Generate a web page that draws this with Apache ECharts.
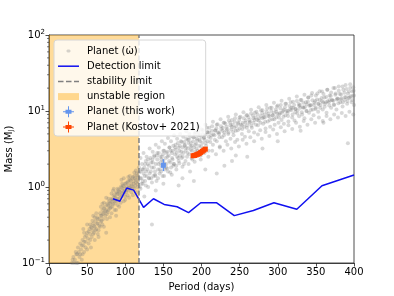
<!DOCTYPE html>
<html><head><meta charset="utf-8">
<script src="https://cdn.jsdelivr.net/npm/echarts@6/dist/echarts.min.js"></script>
<style>html,body{margin:0;padding:0;background:#fff}#c{width:394px;height:296px}</style>
</head><body><div id="c"></div>
<script>
// ---- data ----
var xTicks = [0, 50, 100, 150, 200, 250, 300, 350, 400];
var yTickLabels = {0.1: '10{s|\u22121}', 1: '10{s|0}', 10: '10{s|1}', 100: '10{s|2}'};
var yMinorTicks = [0.2,0.3,0.4,0.5,0.6,0.7,0.8,0.9,2,3,4,5,6,7,8,9,20,30,40,50,60,70,80,90];

// simulated planets (period [d], mass [MJ]) read from the cloud
var cloudPoints = [
[30,0.10],[32,0.12],[34,0.11],[35,0.14],[37,0.13],[38,0.16],[40,0.12],[41,0.18],[42,0.15],[44,0.2],[45,0.17],[46,0.14],[47,0.22],[48,0.19],[50,0.25],[51,0.21],[52,0.18],[53,0.28],[54,0.24],[55,0.3],[56,0.22],[57,0.27],[58,0.33],[59,0.25],[60,0.3],[61,0.36],[62,0.28],[63,0.4],[64,0.33],[65,0.27],[66,0.38],[67,0.45],[68,0.35],[69,0.42],[70,0.5],[71,0.38],[72,0.46],[73,0.55],[74,0.42],[75,0.5],[76,0.6],[77,0.47],[78,0.56],[79,0.65],[80,0.52],[81,0.6],[82,0.7],[83,0.55],[84,0.66],[85,0.78],[86,0.6],[87,0.72],[88,0.85],[89,0.65],[90,0.8],[91,0.92],[92,0.7],[93,0.85],[94,1.0],[95,0.75],[96,0.9],[97,1.05],[98,0.82],[99,0.95],[100,1.1],[101,0.85],[102,1.0],[103,1.15],[104,0.9],[105,1.05],[106,1.25],[107,0.95],[108,1.1],[109,1.3],[110,1.0],[111,1.2],[112,1.4],[113,1.05],[114,1.25],[115,1.5],[116,1.1],[117,1.35],[118,1.55],
[45,0.28],[60,0.2],[70,0.32],[80,0.4],[90,0.58],[100,0.68],[110,0.78],[55,0.16],[65,0.22],[75,0.72],[85,0.95],[95,1.25],[105,0.72],[115,0.85],[36,0.1],[43,0.11],[75,0.25],[62,0.45],[88,0.5],[98,1.3],
[119,1.0],[120,1.6],[121,1.3],[122,2.0],[123,1.1],[124,1.5],[125,1.8],[126,1.2],[127,2.2],[128,1.4],[129,1.7],[130,1.0],[131,1.9],[132,1.5],[133,2.4],[134,1.3],[135,1.8],[136,2.1],[137,1.4],[138,2.6],[139,1.6],[140,2.0],[141,1.2],[142,2.3],[143,1.7],[144,2.8],[145,1.5],[146,2.1],[147,1.9],[148,2.5],[149,1.4],[150,2.2],[151,3.0],[152,1.7],[153,2.4],[154,2.0],[155,2.9],[156,1.6],[157,2.6],[158,3.3],[159,2.1],[160,1.8],[161,2.8],[162,2.3],[163,3.5],[164,2.0],[165,2.7],[166,3.1],[167,1.9],[168,2.5],[169,3.8],[170,2.2],[171,3.0],[172,2.6],[173,4.0],[174,2.4],[175,3.3],[176,2.8],[177,2.0],[178,3.6],[179,3.0],[180,4.3],[181,2.5],[182,3.2],[183,3.8],[184,2.7],[185,4.6],[186,3.1],[187,3.5],[188,2.3],[189,4.0],[190,3.3],[191,5.0],[192,2.9],[193,3.7],[194,4.3],[195,3.0],[196,5.3],[197,3.5],[198,4.0],[199,2.6],[200,4.6],[201,3.8],[202,5.6],[203,3.2],[204,4.2],[205,4.9],[206,3.5],[207,6.0],[208,4.0],[209,3.0],[210,5.2],[212,4.4],[214,6.3],[215,3.6],[217,4.8],[218,5.5],[220,4.0],[221,6.7],[223,5.0],[224,3.4],[226,5.8],[227,4.5],[229,7.0],[230,5.2],[232,4.0],[233,6.2],[235,5.0],[236,7.5],[238,4.3],[239,5.7],[241,6.6],[242,4.8],[244,8.0],[245,5.5],[247,4.2],[248,6.8],[250,5.9],[251,8.4],[253,5.0],[254,7.0],[256,6.2],[257,4.6],[259,8.8],[260,6.5],[262,5.4],[263,7.6],[265,9.3],[266,6.0],[268,7.0],[269,5.2],[271,8.2],[272,9.8],[274,6.5],[275,7.5],[277,5.6],[278,10.2],[280,8.0],[281,6.8],[283,9.0],[284,5.9],[286,10.8],[287,7.3],[289,8.5],[290,6.2],[292,11.0],[293,7.8],[295,9.5],[296,6.6],[298,8.3],[299,11.5],[301,7.0],[302,9.0],[304,12.0],[305,7.6],[307,10.0],[308,6.8],[310,8.8],[311,12.5],[313,9.5],[314,7.3],[316,10.5],[317,13.0],[319,8.2],[320,11.0],[322,7.5],[323,9.6],[325,13.5],[326,10.2],[328,8.5],[329,12.0],[331,14.0],[332,9.0],[334,11.0],[335,8.0],[337,13.0],[338,10.0],[340,15.0],[341,9.5],[343,12.0],[344,16.0],[346,10.5],[347,8.8],[349,13.5],[350,11.0],[352,17.0],[353,9.8],[355,14.0],[356,12.0],[358,18.0],[359,10.5],[361,15.0],[362,12.5],[364,9.5],[365,19.0],[367,13.0],[368,16.0],[370,11.0],[371,14.0],[373,20.0],[374,12.0],[376,17.0],[377,10.5],[379,14.5],[380,21.0],[382,13.0],[383,16.5],[385,11.5],[386,19.0],[388,14.0],[389,22.0],[391,12.5],[392,17.0],[394,15.0],[395,20.0],[397,13.0],[398,18.0],[400,16.0],[400,12.0],
[135,0.32],[161,1.45],[220,1.5],[392,3.75],[190,1.2],[230,1.9],[260,2.5],[150,1.1],[175,1.3],[205,1.7],[240,2.2],[280,3.2],[185,1.6],[245,2.6],[300,4.0],[330,5.5],[360,7.0],[125,0.75],[140,0.9],[170,1.05]
];
var cloudPoints2 = [
[31,0.11],[33,0.1],[36,0.13],[39,0.14],[41,0.13],[43,0.17],[46,0.19],[48,0.16],[49,0.23],[52,0.26],[54,0.2],[56,0.29],[58,0.24],[59,0.31],[61,0.27],[63,0.33],[64,0.38],[66,0.31],[68,0.42],[69,0.36],[71,0.44],[72,0.52],[74,0.48],[76,0.44],[77,0.58],[78,0.5],[80,0.62],[81,0.54],[83,0.68],[84,0.6],[86,0.75],[87,0.66],[89,0.82],[90,0.7],[92,0.88],[93,0.78],[95,0.98],[96,0.82],[98,1.02],[99,0.88],[101,1.12],[102,0.92],[104,1.2],[105,0.98],[107,1.22],[108,1.02],[110,1.35],[111,1.1],[113,1.3],[114,1.15],[116,1.42],[117,1.2],[67,0.3],[82,0.45],[94,0.62],[103,0.78],[112,0.95],[57,0.36],[72,0.62],
[119.5,1.3],[121.5,1.1],[123.5,1.7],[125.5,1.4],[127.5,1.6],[129.5,2.0],[131.5,1.3],[133.5,1.6],[135.5,2.3],[137.5,1.8],[139.5,1.4],[141.5,2.6],[143.5,2.0],[145.5,1.7],[147.5,2.3],[149.5,2.7],[151.5,2.0],[153.5,1.8],[155.5,2.5],[157.5,2.2],[159.5,3.0],[161.5,2.4],[163.5,2.0],[165.5,3.3],[167.5,2.8],[169.5,2.4],[171.5,3.5],[173.5,2.9],[175.5,2.5],[177.5,3.9],[179.5,3.3],[181.5,2.8],[183.5,4.2],[185.5,3.4],[187.5,3.0],[189.5,4.5],[191.5,3.6],[193.5,3.2],[195.5,4.8],[197.5,4.2],[199.5,3.4],[201.5,5.0],[203.5,4.5],[205.5,3.8],[207.5,5.3],[209.5,4.6],[211.5,3.9],[213.5,5.5],[215.5,4.9],[217.5,4.2],[219.5,5.9],[221.5,5.2],[223.5,4.5],[225.5,6.3],[227.5,5.5],[229.5,4.8],[231.5,6.8],[233.5,5.8],[235.5,5.2],[237.5,7.0],[239.5,6.2],[241.5,5.3],[243.5,7.2],[245.5,6.3],[247.5,5.6],[249.5,7.6],[251.5,6.6],[253.5,5.8],[255.5,8.0],[257.5,7.0],[259.5,6.0],[261.5,8.3],[263.5,7.2],[265.5,6.4],[267.5,8.7],[269.5,7.6],[271.5,6.6],[273.5,9.0],[275.5,8.0],[277.5,7.0],[279.5,9.4],[281.5,8.3],[283.5,7.2],[285.5,9.8],[287.5,8.6],[289.5,7.6],[291.5,10.0],[293.5,8.8],[295.5,7.8],[297.5,10.5],[299.5,9.2],[301.5,8.2],[303.5,10.8],[305.5,9.5],[307.5,8.4],[309.5,11.2],[311.5,10.0],[313.5,8.6],[315.5,11.6],[317.5,10.2],[319.5,9.0],[321.5,12.0],[323.5,10.6],[325.5,9.3],[327.5,12.4],[329.5,11.0],[331.5,9.6],[333.5,12.8],[335.5,11.2],[337.5,10.0],[339.5,13.2],[341.5,11.7],[343.5,10.3],[345.5,13.8],[347.5,12.0],[349.5,10.6],[351.5,14.2],[353.5,12.5],[355.5,11.0],[357.5,14.8],[359.5,13.0],[361.5,11.4],[363.5,15.3],[365.5,13.4],[367.5,11.8],[369.5,15.8],[371.5,13.8],[373.5,12.2],[375.5,16.3],[377.5,14.2],[379.5,12.6],[381.5,16.8],[383.5,14.7],[385.5,13.0],[387.5,17.4],[389.5,15.2],[391.5,13.5],[393.5,18.0],[395.5,15.6],[397.5,14.0],[399.5,18.5]
];
var cloudPoints3 = [
[38,0.1],[44,0.13],[50,0.15],[54,0.32],[60,0.4],[64,0.24],[68,0.55],[72,0.3],[76,0.38],[78,0.7],[82,0.82],[86,0.5],[90,0.95],[92,0.55],[96,1.1],[100,0.75],[104,1.35],[108,0.85],[112,1.55],[116,1.0],[118,1.8],[114,1.65],[106,1.4],[98,0.65],[88,0.42],[84,0.9],[70,0.6],[58,0.42],[50,0.32],[46,0.25],
[120,2.4],[124,2.8],[128,2.5],[132,3.2],[136,2.9],[140,3.6],[144,3.3],[148,4.0],[152,3.7],[156,4.4],[160,4.0],[164,4.8],[168,4.3],[172,5.0],[176,4.6],[180,5.4],[184,5.0],[188,5.8],[192,5.3],[196,6.2],[200,5.7],[205,6.6],[210,6.0],[215,7.2],[220,6.6],[225,7.8],[230,7.0],[235,8.4],[240,7.6],[245,9.0],[250,8.2],[255,9.6],[260,8.8],[265,10.4],[270,9.5],[275,11.2],[280,10.2],[285,12.0],[290,11.0],[295,12.8],[300,11.8],[305,13.6],[310,12.5],[315,14.5],[320,13.2],[325,15.5],[330,14.0],[335,16.3],[340,15.0],[345,17.2],[350,16.0],[355,18.2],[360,16.8],[365,19.0],[370,17.5],[375,20.0],[380,18.5],[385,21.0],[390,19.5],[395,22.5],[399,20.5],
[120,0.95],[123,1.2],[127,1.05],[131,1.3],[135,1.15],[139,1.45],[143,1.3],[147,1.6],[151,1.4],[155,1.75],[159,1.55],[163,1.9],[167,1.7],[171,2.05],[175,1.85],[179,2.2],[183,2.0],[187,2.4],[191,2.15],[195,2.6],[199,2.3],[204,2.8],[209,2.5],[214,3.0],[219,2.7],[224,3.3],[229,3.0],[234,3.6],[239,3.2],[244,3.9],[249,3.4],[254,4.2],[259,3.7],[264,4.5],[269,4.0],[274,4.9],[279,4.3],[284,5.3],[289,4.7],[294,5.7],[299,5.0],[304,6.1],[309,5.4],[314,6.5],[319,5.8],[324,7.0],[329,6.2],[334,7.4],[339,6.6],[344,7.8],[349,7.0],[354,8.2],[359,7.4],[364,8.6],[369,7.8],[374,9.0],[379,8.2],[384,9.4],[389,8.6],[394,9.8],[399,9.0],
[122,1.7],[126,2.0],[130,2.3],[134,2.1],[138,2.5],[142,2.8],[146,2.5],[150,3.0],[154,2.8],[158,3.3],[162,3.0],[166,3.6],[170,3.3],[174,3.9],[178,3.5],[182,4.2],[186,3.8],[190,4.5],[194,4.1],[198,4.8],[203,4.4],[208,5.2],[213,4.8],[218,5.6],[223,5.2],[228,6.0],[233,5.6],[238,6.5],[243,6.0],[248,7.0],[253,6.5],[258,7.5],[263,7.0],[268,8.0],[273,7.6],[278,8.6],[283,8.2],[288,9.2],[293,8.8],[298,9.8],[303,9.4],[308,10.4],[313,10.0],[318,11.0],[323,10.6],[328,11.6],[333,11.2],[338,12.2],[343,11.8],[348,12.8],[353,12.4],[358,13.4],[363,13.0],[368,14.0],[373,13.6],[378,14.6],[383,14.2],[388,15.2],[393,14.8],[398,15.8]
];

var detPeriod = [84, 93, 102, 111, 124, 137, 151, 168, 183, 199, 220, 243, 268, 295, 325, 358, 400];
var detMass   = [0.70, 0.65, 0.97, 0.91, 0.54, 0.70, 0.59, 0.55, 0.46, 0.62, 0.62, 0.42, 0.49, 0.62, 0.51, 1.04, 1.44];

var stabilityLimit = 118;
var massRange = [0.1, 100];

var thisWorkP = [150], thisWorkPerr = [2], thisWorkM = [1.93], thisWorkMlo = [1.62], thisWorkMhi = [2.32];
var kostovP    = [189, 191, 193, 195, 197, 199, 201, 203, 205];
var kostovPerr = [2, 2, 2, 2, 2, 2, 2, 2, 2];
var kostovM    = [2.58, 2.6, 2.65, 2.7, 2.75, 2.85, 2.95, 3.05, 3.15];
var kostovMlo  = [2.42, 2.44, 2.48, 2.53, 2.58, 2.68, 2.78, 2.88, 2.98];
var kostovMhi  = [2.75, 2.77, 2.82, 2.88, 2.93, 3.03, 3.13, 3.23, 3.33];

// ---- build ----
function errRows(p, pe, m, lo, hi){ return p.map(function(v,i){ return [v, m[i], pe[i], lo[i], hi[i]]; }); }
function errRender(params, api){
  var x = api.value(0), y = api.value(1), xe = api.value(2), ylo = api.value(3), yhi = api.value(4);
  var c = api.coord([x, y]), l = api.coord([x - xe, y]), r = api.coord([x + xe, y]);
  var t = api.coord([x, yhi]), b = api.coord([x, ylo]);
  var color = api.visual('color');
  return {type:'group', children:[
    {type:'line', shape:{x1:l[0], y1:c[1], x2:r[0], y2:c[1]}, style:{stroke:color, lineWidth:1.5}},
    {type:'line', shape:{x1:c[0], y1:t[1], x2:c[0], y2:b[1]}, style:{stroke:color, lineWidth:1.5}},
    {type:'rect', shape:{x:c[0]-2.5, y:c[1]-2.5, width:5, height:5}, style:{fill:color}}
  ]};
}
function minorTickRender(params, api){
  var p = api.coord([0, api.value(0)]);
  return {type:'line', shape:{x1:p[0]-2, y1:p[1], x2:p[0], y2:p[1]}, style:{stroke:'#222', lineWidth:0.6}};
}
var crossIcon = 'path://M0,0M21,12M10,0.5L11,0.5L11,4L13.5,4L13.5,5.5L16,5.5L16,6.5L13.5,6.5L13.5,8L11,8L11,11.5L10,11.5L10,8L7.5,8L7.5,6.5L5,6.5L5,5.5L7.5,5.5L7.5,4L10,4Z';
var dotIcon = 'path://M0,0M21,12M9.5,4.6L11.5,4.6L12.4,5.5L12.4,6.5L11.5,7.4L9.5,7.4L8.6,6.5L8.6,5.5Z';
var rectIcon = 'path://M0,0M21,12M0,2.5L21,2.5L21,9.5L0,9.5Z';
var lineIcon = 'path://M0,0M21,12M0,5.25L21,5.25L21,6.75L0,6.75Z';
var dashIcon = 'path://M0,0M21,12M0,5.25L5.5,5.25L5.5,6.75L0,6.75Z M8,5.25L13.5,5.25L13.5,6.75L8,6.75Z M16,5.25L21,5.25L21,6.75L16,6.75Z';

var font = 'DejaVu Sans';
var option = {
  animation: false,
  textStyle: {fontFamily: font},
  grid: {left: 49, right: 40, top: 35, bottom: 33, containLabel: false, outerBoundsMode: 'none',
         show: true, borderColor: '#222', borderWidth: 0.8, backgroundColor: 'transparent'},
  xAxis: {
    type: 'value', min: xTicks[0], max: xTicks[xTicks.length-1], interval: 50,
    name: 'Period (days)', nameLocation: 'middle', nameGap: 19, nameMoveOverlap: false,
    nameTextStyle: {fontSize: 10, color: '#000', fontFamily: font},
    axisLine: {lineStyle: {color: '#222', width: 0.8}},
    axisTick: {length: 3.5, lineStyle: {color: '#222', width: 0.8}},
    axisLabel: {fontSize: 10, color: '#000', margin: 4, fontFamily: font},
    splitLine: {show: false}
  },
  yAxis: {
    type: 'log', logBase: 10, min: massRange[0], max: massRange[1],
    name: 'Mass (M{sub|J})', nameLocation: 'middle', nameGap: 34, nameRotate: 90, nameMoveOverlap: false,
    nameTextStyle: {fontSize: 10, color: '#000', fontFamily: font, rich: {sub: {fontSize: 7, verticalAlign: 'bottom', padding: [4,0,0,0], fontFamily: font}}},
    axisLine: {lineStyle: {color: '#222', width: 0.8}},
    axisTick: {length: 3.5, lineStyle: {color: '#222', width: 0.8}},
    axisLabel: {fontSize: 10, color: '#000', margin: 4, fontFamily: font,
      formatter: function(v){ var k = Math.round(Math.log10(v)); return yTickLabels[Math.pow(10,k) >= 1 ? Math.pow(10,k) : 0.1] || ''; },
      rich: {s: {fontSize: 7, verticalAlign: 'top', padding: [0,0,6,0], fontFamily: font}}},
    splitLine: {show: false}
  },
  legend: {
    orient: 'vertical', left: 54, top: 40, padding: [5, 6, 3, 4],
    itemWidth: 21, itemHeight: 12, itemGap: 3.2,
    backgroundColor: 'rgba(255,255,255,0.8)', borderColor: '#d6d6d6', borderWidth: 1, borderRadius: 3,
    textStyle: {fontSize: 10, color: '#000', fontFamily: font, lineHeight: 12, padding: [0,0,0,3]},
    selectedMode: false,
    data: [
      {name: 'Planet (\u03c9\u0307)', icon: dotIcon, itemStyle: {color: 'rgba(150,150,150,0.5)'}},
      {name: 'Detection limit', icon: lineIcon, itemStyle: {color: '#1010f0'}},
      {name: 'stability limit', icon: dashIcon, itemStyle: {color: '#808080'}},
      {name: 'unstable region', icon: rectIcon, itemStyle: {color: 'rgba(255,165,0,0.4)'}},
      {name: 'Planet (this work)', icon: crossIcon},
      {name: 'Planet (Kostov+ 2021)', icon: crossIcon}
    ]
  },
  series: [
    {name: 'unstable region', type: 'line', data: [], z: 0, itemStyle: {color: 'rgba(255,165,0,0.4)'},
     markArea: {silent: true, itemStyle: {color: 'rgba(255,165,0,0.4)'},
       data: [[{xAxis: 0, yAxis: massRange[0]}, {xAxis: stabilityLimit, yAxis: massRange[1]}]]}},
    {name: 'Planet (\u03c9\u0307)', type: 'scatter', data: cloudPoints.concat(cloudPoints2, cloudPoints3), symbolSize: 4, z: 1,
     itemStyle: {color: 'rgba(120,120,120,0.36)'}},
    {name: 'Detection limit', type: 'line', data: detPeriod.map(function(p,i){return [p, detMass[i]];}),
     symbol: 'none', z: 3, lineStyle: {color: '#1010f0', width: 1.5}, itemStyle: {color: '#1010f0'}},
    {name: 'stability limit', type: 'line', data: [[stabilityLimit, massRange[0]], [stabilityLimit, massRange[1]]],
     symbol: 'none', z: 3, lineStyle: {color: '#808080', width: 1.5, type: [5, 2.5]}, itemStyle: {color: '#808080'}},
    {name: 'Planet (this work)', type: 'custom', renderItem: errRender, z: 4,
     data: errRows(thisWorkP, thisWorkPerr, thisWorkM, thisWorkMlo, thisWorkMhi), itemStyle: {color: '#6495ED'}},
    {name: 'Planet (Kostov+ 2021)', type: 'custom', renderItem: errRender, z: 4,
     data: errRows(kostovP, kostovPerr, kostovM, kostovMlo, kostovMhi), itemStyle: {color: '#FF4500'}},
    {name: 'minor', type: 'custom', renderItem: minorTickRender, z: 5, silent: true, clip: false,
     data: yMinorTicks.map(function(v){return [v];}), encode: {y: 0}}
  ]
};
var chart = echarts.init(document.getElementById('c'), null, {renderer: 'canvas'});
chart.setOption(option);
</script></body></html>
